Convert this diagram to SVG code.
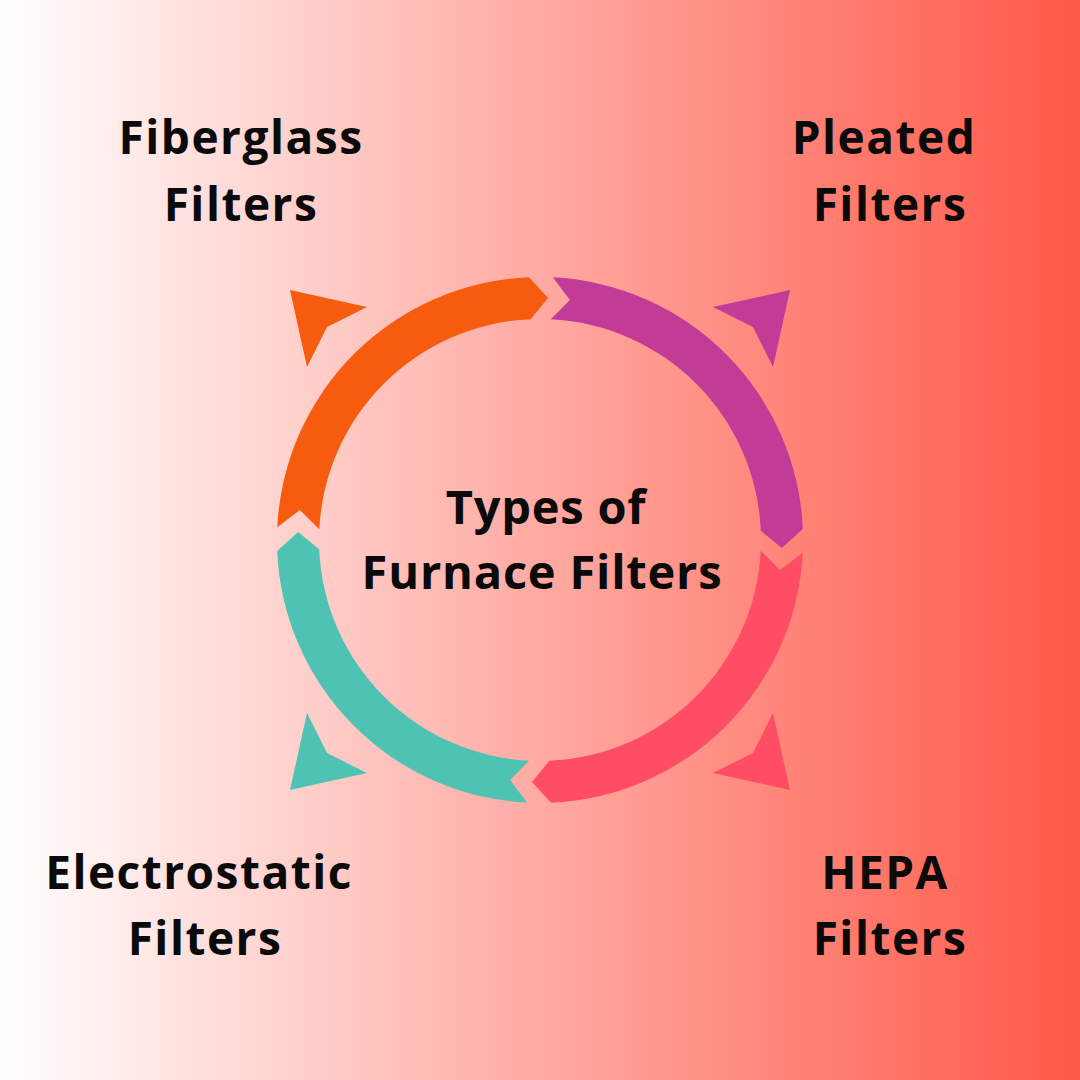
<svg xmlns="http://www.w3.org/2000/svg" width="1080" height="1080" viewBox="0 0 1080 1080">
  <defs>
    <linearGradient id="bg" x1="0" y1="0" x2="1" y2="0">
      <stop offset="0" stop-color="#FFFFFF"/>
      <stop offset="0.5" stop-color="#FFAAA2"/>
      <stop offset="1" stop-color="#FF5847"/>
    </linearGradient>
    <path id="seg" d="M 277.3 527.2 A 263 263 0 0 1 529.0 277.2 L 548.0 298.1 L 530.7 319.2 A 221 221 0 0 0 319.3 529.2 L 299.9 510.1 Z"/>
    <path id="tri" d="M 290 290 L 367 307 L 327 327 L 307 367 Z"/>
  </defs>
  <style>
    .lbl { font-family: "Open Sans", "Noto Sans", "Liberation Sans", sans-serif; font-weight: 700; font-size: 46px; letter-spacing: 1.5px; fill: #0A0A0A; text-anchor: middle; }
    .ctr { font-size: 47px; letter-spacing: 0.8px; }
  </style>
  <rect x="0" y="0" width="1080" height="1080" fill="url(#bg)"/>

  <g id="connectors">
    <g id="arc-fiberglass" fill="#F65B0E">
      <use href="#seg"/>
      <use href="#tri"/>
    </g>
    <g id="arc-pleated" fill="#C13B97" transform="rotate(90 540 540)">
      <use href="#seg"/>
      <use href="#tri"/>
    </g>
    <g id="arc-hepa" fill="#FF4D65" transform="rotate(180 540 540)">
      <use href="#seg"/>
      <use href="#tri"/>
    </g>
    <g id="arc-electrostatic" fill="#4EC3B3" transform="rotate(270 540 540)">
      <use href="#seg"/>
      <use href="#tri"/>
    </g>
  </g>

  <g id="node-center">
    <text class="lbl ctr" x="546" y="524">Types of</text>
    <text class="lbl ctr" x="542" y="589">Furnace Filters</text>
  </g>
  <g id="node-fiberglass">
    <text class="lbl" x="241" y="154">Fiberglass</text>
    <text class="lbl" x="241" y="221">Filters</text>
  </g>
  <g id="node-pleated">
    <text class="lbl" x="884" y="154">Pleated</text>
    <text class="lbl" x="890" y="221">Filters</text>
  </g>
  <g id="node-electrostatic">
    <text class="lbl" x="199" y="889">Electrostatic</text>
    <text class="lbl" x="205" y="955">Filters</text>
  </g>
  <g id="node-hepa">
    <text class="lbl" x="885" y="889">HEPA</text>
    <text class="lbl" x="890" y="955">Filters</text>
  </g>
</svg>
